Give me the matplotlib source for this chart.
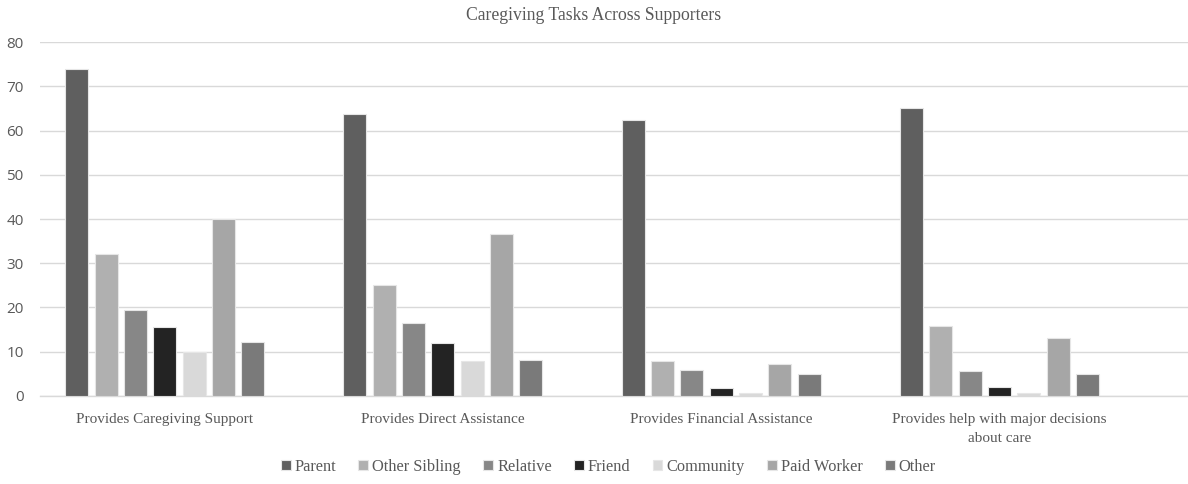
import matplotlib
matplotlib.use('Agg')
import matplotlib.pyplot as plt
from matplotlib.font_manager import FontProperties
import numpy as np

plt.rcParams['font.family'] = ['Liberation Serif', 'DejaVu Serif']

tasks = ['Provides Caregiving Support', 'Provides Direct Assistance',
         'Provides Financial Assistance', 'Provides help with major decisions\nabout care']
supporters = ['Parent', 'Other Sibling', 'Relative', 'Friend', 'Community', 'Paid Worker', 'Other']

parent = [74.0, 63.8, 62.3, 65.0]
other_sibling = [32.0, 25.1, 7.8, 15.9]
relative = [19.5, 16.4, 5.9, 5.7]
friend = [15.6, 11.9, 1.8, 2.0]
community = [10.0, 7.8, 0.6, 0.6]
paid_worker = [39.9, 36.5, 7.2, 13.1]
other = [12.2, 8.2, 5.0, 4.9]

series = [parent, other_sibling, relative, friend, community, paid_worker, other]
shades = ['#5f5f5f', '#b0b0b0', '#878787', '#232323', '#d9d9d9', '#a6a6a6', '#7a7a7a']

text_grey = '#595959'

fig = plt.figure(figsize=(11.88, 4.84), dpi=100)
ax = fig.add_axes([0.034, 0.182, 0.966, 0.731])

x = np.arange(len(tasks))
slot = 0.1054
width = 0.0826
for i, (vals, col, name) in enumerate(zip(series, shades, supporters)):
    pos = x + slot * (i - 3)
    ax.bar(pos, vals, width=width, color=col, edgecolor='#e6e6e6',
           linewidth=0.8, label=name, zorder=3)

ax.set_xlim(-0.447, 3.678)
ax.set_ylim(0, 80)
ax.set_yticks(range(0, 81, 10))
ax.yaxis.grid(True, color='#d9d9d9', linewidth=1.0, zorder=0)
ax.set_axisbelow(True)
for s in ['top', 'right', 'left']:
    ax.spines[s].set_visible(False)
ax.spines['bottom'].set_color('#d9d9d9')
ax.spines['bottom'].set_linewidth(1.0)
ax.tick_params(axis='both', length=0)
ax.tick_params(axis='y', pad=12, labelsize=11, labelcolor=text_grey)
for lab in ax.get_yticklabels():
    lab.set_family(['Open Sans', 'DejaVu Sans'])

ax.set_xticks(x)
ax.set_xticklabels(tasks, fontsize=11, color=text_grey, linespacing=1.6)
ax.tick_params(axis='x', pad=12)

fig.suptitle('Caregiving Tasks Across Supporters', x=0.5, y=0.985,
             fontsize=12.7, color=text_grey)

leg_font = FontProperties(family='Liberation Serif', size=11.8)
leg = fig.legend(loc='center', bbox_to_anchor=(0.512, 0.035), ncol=7, frameon=False,
                 handlelength=0.6, handleheight=0.6, handletextpad=0.25,
                 columnspacing=1.35, prop=leg_font)
for t in leg.get_texts():
    t.set_color(text_grey)

fig.savefig('out.png', dpi=100)
